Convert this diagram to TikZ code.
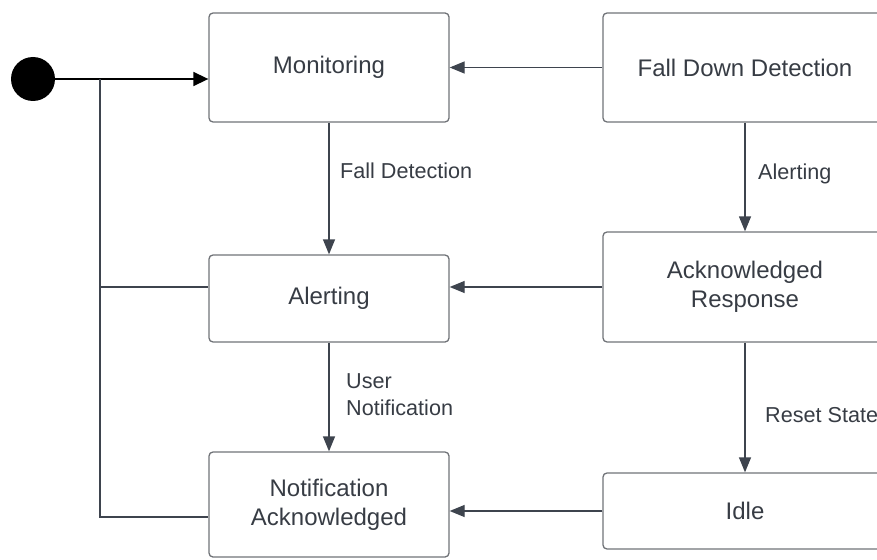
\documentclass[tikz,border=0pt]{standalone}
\usepackage{fontspec}
\setmainfont{Liberation Sans}
\usetikzlibrary{arrows.meta}
\definecolor{linecol}{RGB}{62,68,78}
\definecolor{boxcol}{RGB}{112,115,120}
\definecolor{txtcol}{RGB}{55,60,68}
\tikzset{
  state/.style={draw=boxcol, line width=1.3pt, rounded corners=4pt,
    text=txtcol, align=center, inner sep=0pt,
    font=\fontsize{24}{29}\selectfont},
  leftstate/.style={state, minimum width=240pt},
  rightstate/.style={state, minimum width=284pt},
  trans/.style={draw=linecol, line width=1.3pt,
    -{Triangle[length=15pt,width=12pt]}},
  wire/.style={draw=linecol, line width=1.3pt},
  tlabel/.style={text=txtcol, anchor=west, align=left, inner sep=0pt,
    font=\fontsize{21.6}{27}\selectfont},
}
\begin{document}
\begin{tikzpicture}[x=1pt,y=-1pt]
  \useasboundingbox (0,0) rectangle (877,559);
  \clip (0,0) rectangle (877,559);

  % initial pseudo-state
  \node[circle, fill=black, minimum size=44pt, inner sep=0pt] (init) at (33,79) {};

  % states, left column
  \node[leftstate, minimum height=109pt] (mon) at (329,67.5) {Monitoring};
  \node[leftstate, minimum height=87pt] (alert) at (329,298.5) {Alerting};
  \node[leftstate, minimum height=105pt] (notif) at (329,504.5) {Notification\\Acknowledged};

  % states, right column
  \node[rightstate, minimum height=109pt] (fdd) at (745,67.5) {Fall Down Detection};
  \node[rightstate, minimum height=110pt] (ack) at (745,287) {Acknowledged\\Response};
  \node[rightstate, minimum height=76pt] (idle) at (745,511) {Idle};

  % initial transition and reset branches
  \draw[line width=1.6pt, -{Triangle[length=15pt,width=14pt]}]
    (init.east) -- (init.east -| mon.west);
  \coordinate (split) at (100,79);
  \coordinate (alertin) at ([yshift=11.5pt]alert.west);
  \coordinate (notifin) at ([yshift=-12.5pt]notif.west);
  \draw[wire] (split) |- (notifin);
  \draw[wire] (split |- alertin) -- (alertin);

  % transitions
  \draw[trans] (mon) -- (alert);
  \draw[trans] (alert) -- (notif);
  \draw[trans] (fdd) -- (ack);
  \draw[trans] (ack) -- (idle);
  \draw[trans] (fdd.west) -- (mon.east);
  \draw[trans] (ack.west) -- (ack.west -| alert.east);
  \draw[trans] (idle.west) -- (idle.west -| notif.east);

  % transition labels
  \node[tlabel] (lfall) at (340,171) {Fall Detection};
  \node[tlabel] (lalert) at (758,174) {Alerting};
  \node[tlabel] (luser) at (346,394.5) {User\\Notification};
  \node[tlabel] (lreset) at (765,415) {Reset State};
\end{tikzpicture}
\end{document}
